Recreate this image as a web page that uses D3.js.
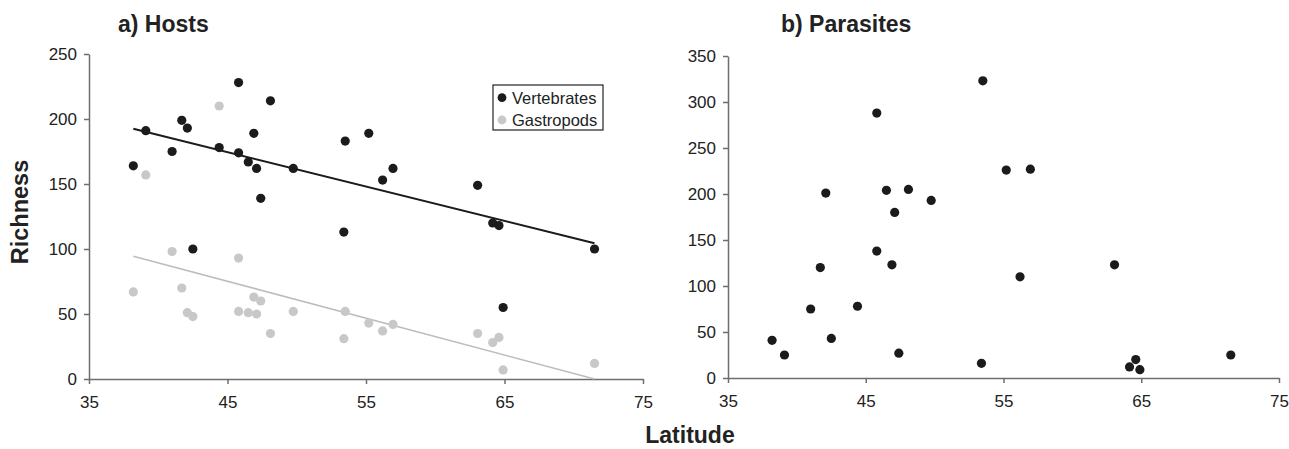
<!DOCTYPE html>
<html>
<head>
  <meta charset="utf-8">
  <script src="https://d3js.org/d3.v7.min.js"></script>
  <style>
    body { margin: 0; background: #fff; font-family: "Liberation Sans", Arial, sans-serif; }
    .tick text { font-size: 17px; fill: #222; }
    .axis path, .axis line { stroke: #6e6e6e; stroke-width: 1.5; }
  </style>
</head>
<body>
<script>
  // latitude of each site (same sites in both panels)
  var latitude = [38.2, 39.1, 41.0, 41.7, 42.1, 42.5, 44.4, 45.8, 45.8, 46.5, 46.9, 47.1, 47.4,
                  48.1, 49.75, 53.4, 53.5, 55.2, 56.2, 56.95, 63.06, 64.15, 64.6, 64.9, 71.5];
  var vertebrates = [164, 191, 175, 199, 193, 100, 178, 228, 174, 167, 189, 162, 139,
                     214, 162, 113, 183, 189, 153, 162, 149, 120, 118, 55, 100];
  var gastropods = [67, 157, 98, 70, 51, 48, 210, 93, 52, 51, 63, 50, 60,
                    35, 52, 31, 52, 43, 37, 42, 35, 28, 32, 7, 12];
  var parasites = [41, 25, 75, 120, 201, 43, 78, 288, 138, 204, 123, 180, 27,
                   205, 193, 16, 323, 226, 110, 227, 123, 12, 20, 9, 25];

  // fitted trend lines (end points)
  var vertTrend = [[38.2, 192.5], [71.5, 104.4]];
  var gastTrend = [[38.2, 94.4], [71.5, 0]];

  var xTicks = [35, 45, 55, 65, 75];
  var yTicksHosts = [0, 50, 100, 150, 200, 250];
  var yTicksPara = [0, 50, 100, 150, 200, 250, 300, 350];

  var black = "#1c1a1b", grey = "#c8c8c8";

  var svg = d3.select("body").append("svg")
      .attr("width", 1289)
      .attr("height", 449);

  function axes(x, y, yTicks) {
    svg.append("g")
        .attr("class", "axis")
        .attr("transform", "translate(0," + y(0) + ")")
        .call(d3.axisBottom(x).tickValues(xTicks).tickSize(5).tickSizeOuter(0).tickPadding(12));
    svg.append("g")
        .attr("class", "axis")
        .attr("transform", "translate(" + x(35) + ",0)")
        .call(d3.axisLeft(y).tickValues(yTicks).tickSize(5).tickSizeOuter(0).tickPadding(7));
    svg.selectAll(".axis").attr("font-family", null).attr("font-size", null);
  }

  function dots(x, y, vals, color) {
    svg.append("g").selectAll("circle")
        .data(vals)
        .enter()
        .append("circle")
        .attr("cx", function (d, i) { return x(latitude[i]); })
        .attr("cy", function (d) { return y(d); })
        .attr("r", 4.6)
        .style("fill", color);
  }

  function trend(x, y, pts, color, w) {
    svg.append("path")
        .datum(pts)
        .attr("d", d3.line().x(function (d) { return x(d[0]); }).y(function (d) { return y(d[1]); }))
        .style("fill", "none")
        .style("stroke", color)
        .style("stroke-width", w);
  }

  // a) Hosts
  var xA = d3.scaleLinear().domain([35, 75]).range([89, 643]);
  var yA = d3.scaleLinear().domain([0, 250]).range([379, 54]);
  axes(xA, yA, yTicksHosts);
  trend(xA, yA, gastTrend, "#bdbdbd", 1.6);
  trend(xA, yA, vertTrend, black, 2);
  dots(xA, yA, gastropods, grey);
  dots(xA, yA, vertebrates, black);

  // b) Parasites
  var xB = d3.scaleLinear().domain([35, 75]).range([728, 1279]);
  var yB = d3.scaleLinear().domain([0, 350]).range([378, 56]);
  axes(xB, yB, yTicksPara);
  dots(xB, yB, parasites, black);

  // titles
  svg.append("text").attr("x", 118).attr("y", 32)
      .style("font-size", "23px").style("font-weight", "bold").style("fill", "#222")
      .text("a) Hosts");
  svg.append("text").attr("x", 781).attr("y", 32)
      .style("font-size", "23px").style("font-weight", "bold").style("fill", "#222")
      .text("b) Parasites");
  svg.append("text")
      .attr("transform", "translate(28,212) rotate(-90)")
      .attr("text-anchor", "middle")
      .style("font-size", "23.5px").style("font-weight", "bold").style("fill", "#222")
      .text("Richness");
  svg.append("text").attr("x", 690).attr("y", 443)
      .attr("text-anchor", "middle")
      .style("font-size", "23px").style("font-weight", "bold").style("fill", "#222")
      .text("Latitude");

  // legend
  var legend = svg.append("g");
  legend.append("rect")
      .attr("x", 493).attr("y", 85).attr("width", 110).attr("height", 45)
      .style("fill", "#fff").style("stroke", "#222").style("stroke-width", 1.2);
  var items = [["Vertebrates", black], ["Gastropods", grey]];
  items.forEach(function (d, i) {
    legend.append("circle").attr("cx", 502).attr("cy", 97.7 + i * 22.3).attr("r", 4.4).style("fill", d[1]);
    legend.append("text").attr("x", 512).attr("y", 103.5 + i * 22.3)
        .style("font-size", "16.5px").style("fill", "#222").text(d[0]);
  });
</script>
</body>
</html>
